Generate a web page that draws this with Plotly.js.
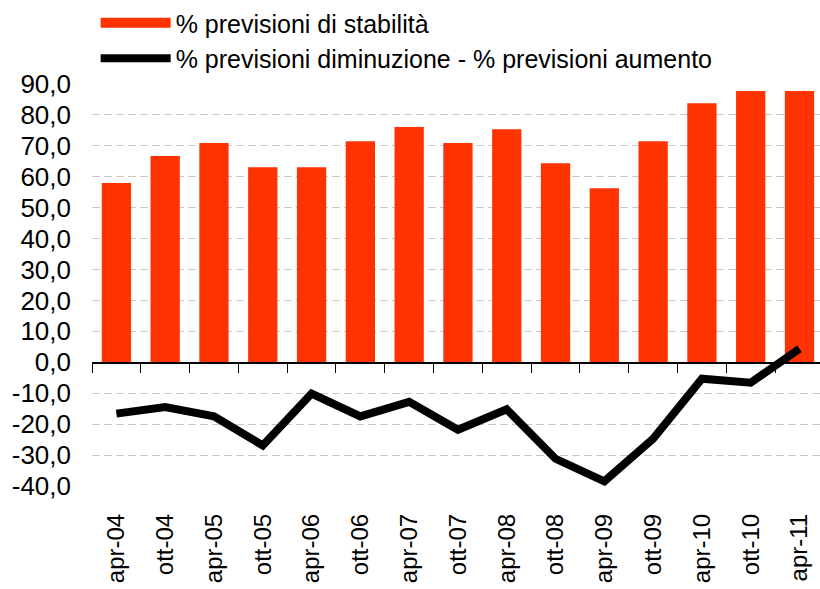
<!DOCTYPE html>
<html>
<head>
<meta charset="utf-8">
<script src="https://cdn.plot.ly/plotly-3.0.1.min.js"></script>
<style>
  html, body { margin: 0; padding: 0; background: #fff; }
  #chart { width: 820px; height: 589px; }
</style>
</head>
<body>
<div id="chart"></div>
<script>
// periodi dell'indagine
let periods = ['apr-04', 'ott-04', 'apr-05', 'ott-05', 'apr-06', 'ott-06', 'apr-07', 'ott-07',
  'apr-08', 'ott-08', 'apr-09', 'ott-09', 'apr-10', 'ott-10', 'apr-11'];

// % previsioni di stabilità (barre)
let stabilita = [58.0, 66.7, 70.9, 63.1, 63.1, 71.5, 76.1, 70.9, 75.4, 64.4, 56.3, 71.5, 83.8, 87.7, 87.7];

// saldo diminuzione - aumento (linea)
let saldo = [-16.6, -14.5, -17.5, -26.9, -10.1, -17.5, -12.8, -21.8, -15.2, -31.2, -38.5, -24.7, -5.3, -6.6, 4.4];

let yTickVals = [-40, -30, -20, -10, 0, 10, 20, 30, 40, 50, 60, 70, 80, 90];
let yTickText = yTickVals.map(v => v.toFixed(1).replace('.', ','));

let font = '"Liberation Sans", Arial, sans-serif';
let red = '#ff3300';

let data = [
  {
    type: 'bar',
    name: '% previsioni di stabilità',
    x: periods,
    y: stabilita,
    marker: { color: red },
    width: 0.6,
    showlegend: false,
    xaxis: 'x',
    yaxis: 'y'
  },
  // only for the wide legend swatch of the bars
  {
    type: 'scatter',
    mode: 'lines',
    name: '% previsioni di stabilità',
    x: [null],
    y: [null],
    line: { color: red, width: 18 },
    hoverinfo: 'skip',
    xaxis: 'x',
    yaxis: 'y'
  },
  {
    type: 'scatter',
    mode: 'lines',
    name: '% previsioni diminuzione - % previsioni aumento',
    x: periods,
    y: saldo,
    line: { color: '#000000', width: 8 },
    xaxis: 'x2',
    yaxis: 'y'
  }
];

let layout = {
  width: 820,
  height: 589,
  margin: { l: 92, r: 0, t: 84, b: 103 },
  paper_bgcolor: '#ffffff',
  plot_bgcolor: '#ffffff',
  font: { family: font, color: '#000000', size: 24 },
  showlegend: true,
  legend: {
    x: 0.005,
    xanchor: 'left',
    y: 1.21,
    yanchor: 'top',
    orientation: 'v',
    itemwidth: 70,
    font: { family: font, size: 25, color: '#000000' },
    bgcolor: 'rgba(0,0,0,0)'
  },
  xaxis: {
    type: 'category',
    range: [-0.5, 14.42],
    tickangle: -90,
    ticks: '',
    showline: false,
    showgrid: false,
    zeroline: false,
    ticklabelstandoff: 22,
    tickfont: { family: font, size: 24 }
  },
  xaxis2: {
    type: 'category',
    overlaying: 'x',
    matches: 'x',
    anchor: 'free',
    position: 40 / 130,
    showline: true,
    linecolor: '#000000',
    linewidth: 1.5,
    ticks: 'outside',
    tickson: 'boundaries',
    ticklen: 9,
    tickcolor: '#000000',
    tickwidth: 1,
    showticklabels: false,
    showgrid: false,
    zeroline: false
  },
  yaxis: {
    range: [-40, 90],
    tickvals: yTickVals,
    ticktext: yTickText,
    showline: false,
    zeroline: false,
    showgrid: true,
    gridcolor: '#c8c8c8',
    gridwidth: 1,
    griddash: '8px,4px',
    ticks: '',
    ticklabelstandoff: 20,
    tickfont: { family: font, size: 26 }
  },
  bargap: 0.4
};

Plotly.newPlot('chart', data, layout, { displayModeBar: false, staticPlot: true });
</script>
</body>
</html>
